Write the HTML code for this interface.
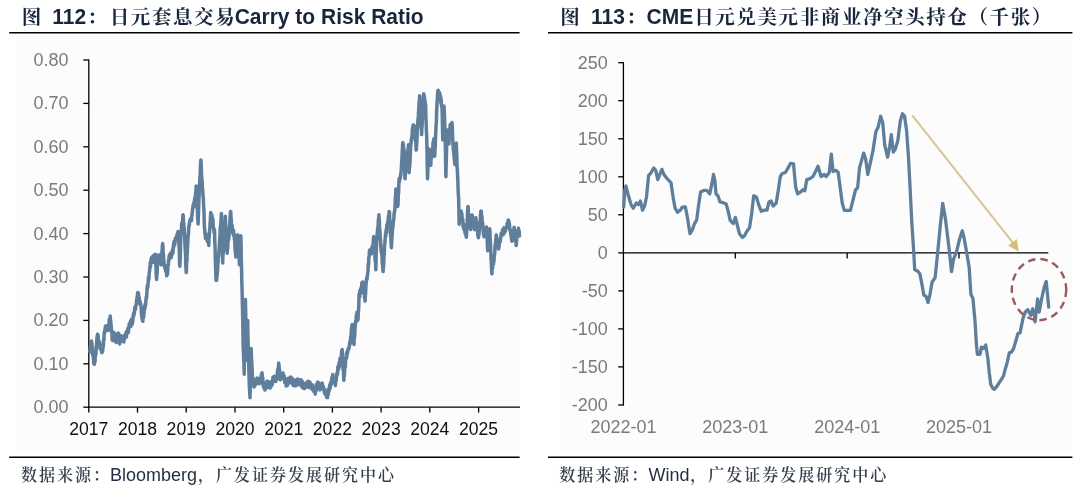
<!DOCTYPE html>
<html><head><meta charset="utf-8">
<style>
html,body{margin:0;padding:0;background:#fff;}
body{width:1080px;height:490px;overflow:hidden;}
svg{display:block;}
.t{font-family:"Liberation Sans","Noto Serif CJK SC",serif;font-size:21px;font-weight:bold;fill:#17263b;}
.tc{font-family:"Liberation Serif","Noto Serif CJK SC",serif;font-weight:bold;font-size:19.5px;letter-spacing:1.6px;}
.yl{font-family:"Liberation Sans",sans-serif;font-size:18px;fill:#7a7a7a;}
.xl{font-family:"Liberation Sans",sans-serif;font-size:17.6px;fill:#111;}
.xr{font-family:"Liberation Sans",sans-serif;font-size:18px;fill:#7a7a7a;}
.src{font-family:"Liberation Sans","Noto Serif CJK SC",serif;font-size:18px;fill:#1f2d40;}
.sc{font-family:"Liberation Serif","Noto Serif CJK SC",serif;font-size:16px;font-weight:600;letter-spacing:2px;fill:#343e4c;}
</style></head>
<body>
<svg width="1080" height="490" viewBox="0 0 1080 490">
<rect width="1080" height="490" fill="#fff"/>
<text class="t tc" x="21.8" y="24.2">图</text><text class="t tc" x="87.3" y="24.2">：</text><text class="t tc" x="109.7" y="24.2">日元套息交易</text>
<text class="t" y="24" transform="translate(0,-1.68) scale(1,1.07)"><tspan x="52.3">112</tspan><tspan x="234.7">Carry to Risk Ratio</tspan></text>
<line x1="9.2" y1="32.8" x2="519.6" y2="32.8" stroke="#000" stroke-width="1.6"/>
<text class="t tc" x="560.2" y="24.2">图</text><text class="t tc" x="626.2" y="24.2">：</text><text class="t tc" x="694.2" y="24.2">日元兑美元非商业净空头持仓（千张）</text>
<text class="t" y="24" transform="translate(0,-1.68) scale(1,1.07)"><tspan x="591">113</tspan><tspan x="646.5">CME</tspan></text>
<line x1="548" y1="32.8" x2="1072.4" y2="32.8" stroke="#000" stroke-width="1.6"/>
<rect x="16" y="34.5" width="504" height="415.5" fill="#fcfcfc"/>
<line x1="88.8" y1="59.5" x2="88.8" y2="407.2" stroke="#000" stroke-width="1.3"/>
<line x1="83.3" y1="60.0" x2="88.8" y2="60.0" stroke="#000" stroke-width="1.3"/>
<text x="68.5" y="66.1" transform="translate(0,-2.97) scale(1,1.045)" class="yl" text-anchor="end">0.80</text>
<line x1="83.3" y1="103.4" x2="88.8" y2="103.4" stroke="#000" stroke-width="1.3"/>
<text x="68.5" y="109.5" transform="translate(0,-4.93) scale(1,1.045)" class="yl" text-anchor="end">0.70</text>
<line x1="83.3" y1="146.8" x2="88.8" y2="146.8" stroke="#000" stroke-width="1.3"/>
<text x="68.5" y="152.9" transform="translate(0,-6.88) scale(1,1.045)" class="yl" text-anchor="end">0.60</text>
<line x1="83.3" y1="190.2" x2="88.8" y2="190.2" stroke="#000" stroke-width="1.3"/>
<text x="68.5" y="196.3" transform="translate(0,-8.83) scale(1,1.045)" class="yl" text-anchor="end">0.50</text>
<line x1="83.3" y1="233.6" x2="88.8" y2="233.6" stroke="#000" stroke-width="1.3"/>
<text x="68.5" y="239.7" transform="translate(0,-10.79) scale(1,1.045)" class="yl" text-anchor="end">0.40</text>
<line x1="83.3" y1="277.0" x2="88.8" y2="277.0" stroke="#000" stroke-width="1.3"/>
<text x="68.5" y="283.1" transform="translate(0,-12.74) scale(1,1.045)" class="yl" text-anchor="end">0.30</text>
<line x1="83.3" y1="320.4" x2="88.8" y2="320.4" stroke="#000" stroke-width="1.3"/>
<text x="68.5" y="326.5" transform="translate(0,-14.69) scale(1,1.045)" class="yl" text-anchor="end">0.20</text>
<line x1="83.3" y1="363.8" x2="88.8" y2="363.8" stroke="#000" stroke-width="1.3"/>
<text x="68.5" y="369.9" transform="translate(0,-16.65) scale(1,1.045)" class="yl" text-anchor="end">0.10</text>
<line x1="83.3" y1="407.2" x2="88.8" y2="407.2" stroke="#000" stroke-width="1.3"/>
<text x="68.5" y="413.3" transform="translate(0,-18.60) scale(1,1.045)" class="yl" text-anchor="end">0.00</text>
<line x1="88.2" y1="407.2" x2="520" y2="407.2" stroke="#000" stroke-width="1.3"/>
<line x1="88.8" y1="407.2" x2="88.8" y2="412.6" stroke="#000" stroke-width="1.3"/>
<text x="88.8" y="434.6" transform="translate(0,-30.42) scale(1,1.07)" class="xl" text-anchor="middle">2017</text>
<line x1="137.5" y1="407.2" x2="137.5" y2="412.6" stroke="#000" stroke-width="1.3"/>
<text x="137.5" y="434.6" transform="translate(0,-30.42) scale(1,1.07)" class="xl" text-anchor="middle">2018</text>
<line x1="186.2" y1="407.2" x2="186.2" y2="412.6" stroke="#000" stroke-width="1.3"/>
<text x="186.2" y="434.6" transform="translate(0,-30.42) scale(1,1.07)" class="xl" text-anchor="middle">2019</text>
<line x1="235.0" y1="407.2" x2="235.0" y2="412.6" stroke="#000" stroke-width="1.3"/>
<text x="235.0" y="434.6" transform="translate(0,-30.42) scale(1,1.07)" class="xl" text-anchor="middle">2020</text>
<line x1="283.7" y1="407.2" x2="283.7" y2="412.6" stroke="#000" stroke-width="1.3"/>
<text x="283.7" y="434.6" transform="translate(0,-30.42) scale(1,1.07)" class="xl" text-anchor="middle">2021</text>
<line x1="332.4" y1="407.2" x2="332.4" y2="412.6" stroke="#000" stroke-width="1.3"/>
<text x="332.4" y="434.6" transform="translate(0,-30.42) scale(1,1.07)" class="xl" text-anchor="middle">2022</text>
<line x1="381.1" y1="407.2" x2="381.1" y2="412.6" stroke="#000" stroke-width="1.3"/>
<text x="381.1" y="434.6" transform="translate(0,-30.42) scale(1,1.07)" class="xl" text-anchor="middle">2023</text>
<line x1="429.8" y1="407.2" x2="429.8" y2="412.6" stroke="#000" stroke-width="1.3"/>
<text x="429.8" y="434.6" transform="translate(0,-30.42) scale(1,1.07)" class="xl" text-anchor="middle">2024</text>
<line x1="478.6" y1="407.2" x2="478.6" y2="412.6" stroke="#000" stroke-width="1.3"/>
<text x="478.6" y="434.6" transform="translate(0,-30.42) scale(1,1.07)" class="xl" text-anchor="middle">2025</text>
<polyline points="89.9,351.7 90.2,348.8 90.4,345.8 90.7,347.3 90.9,341.7 91.2,343.0 91.4,341.0 91.6,342.5 91.9,342.9 92.1,348.3 92.3,347.7 92.6,352.7 92.8,355.6 93.0,354.2 93.3,355.8 93.5,359.5 93.8,363.6 94.0,360.4 94.3,364.3 94.5,360.7 94.8,361.6 95.0,362.0 95.2,357.7 95.5,354.8 95.7,353.7 95.9,354.4 96.2,345.9 96.4,348.8 96.7,342.6 96.9,339.2 97.1,336.6 97.4,335.5 97.6,334.3 97.8,337.8 98.1,335.0 98.3,339.0 98.5,340.8 98.7,340.4 99.0,342.9 99.2,344.0 99.5,342.1 99.7,343.0 100.0,344.9 100.2,349.0 100.5,348.8 100.7,348.6 100.9,348.2 101.2,350.3 101.4,349.8 101.6,349.1 101.8,352.7 102.1,352.4 102.3,349.7 102.5,351.7 102.7,349.8 103.0,347.0 103.2,346.9 103.5,343.5 103.7,338.2 103.9,340.3 104.2,332.2 104.4,332.3 104.6,331.1 104.8,332.7 105.1,328.1 105.3,329.6 105.5,326.0 105.7,329.5 106.0,329.5 106.2,327.6 106.4,326.5 106.6,329.2 106.9,325.8 107.1,328.5 107.3,328.1 107.6,328.3 107.8,327.7 108.1,330.5 108.3,328.5 108.5,329.9 108.8,325.2 109.0,324.9 109.2,319.3 109.5,322.0 109.7,320.0 110.0,320.7 110.2,315.9 110.4,320.7 110.6,319.9 110.9,323.2 111.1,327.8 111.3,326.2 111.5,331.8 111.8,332.5 112.0,334.9 112.2,340.1 112.4,336.5 112.7,340.4 112.9,335.5 113.2,335.5 113.4,335.8 113.6,338.2 113.9,332.3 114.1,334.3 114.3,334.9 114.6,336.6 114.8,339.7 115.0,340.3 115.3,341.5 115.5,338.6 115.8,340.5 116.0,342.0 116.2,340.1 116.4,342.6 116.7,342.1 116.9,335.8 117.1,335.0 117.3,334.4 117.6,333.5 117.8,334.2 118.0,333.3 118.2,335.0 118.5,333.9 118.7,333.3 119.0,337.1 119.2,337.9 119.4,340.3 119.7,343.9 119.9,342.0 120.1,342.6 120.3,340.8 120.6,340.8 120.8,340.6 121.0,335.8 121.2,340.8 121.5,339.3 121.7,339.3 121.9,336.2 122.1,338.9 122.4,336.9 122.6,337.7 122.8,336.5 123.1,340.7 123.3,337.7 123.6,338.4 123.8,342.0 124.0,339.4 124.3,338.3 124.5,338.8 124.8,336.1 125.0,335.1 125.2,335.3 125.5,334.3 125.7,336.2 125.9,334.8 126.1,332.0 126.4,337.1 126.6,334.8 126.8,331.2 127.0,331.4 127.3,331.5 127.5,331.0 127.7,331.4 127.9,328.2 128.2,332.3 128.4,332.5 128.7,328.3 128.9,327.7 129.1,324.3 129.4,323.7 129.6,325.6 129.8,324.2 130.0,323.3 130.3,326.6 130.5,321.9 130.7,320.6 130.9,326.3 131.2,323.1 131.4,320.3 131.6,322.5 131.8,318.7 132.1,321.6 132.3,324.2 132.5,320.7 132.7,322.0 132.9,319.8 133.2,315.9 133.4,315.5 133.6,313.1 133.8,316.0 134.1,313.4 134.3,313.9 134.5,311.0 134.7,308.7 135.0,306.7 135.2,309.4 135.4,309.4 135.7,307.3 135.9,305.7 136.2,304.6 136.4,301.3 136.6,301.9 136.9,297.6 137.1,298.5 137.4,296.5 137.6,293.4 137.8,292.4 138.1,293.1 138.3,293.6 138.5,293.1 138.7,297.0 139.0,299.8 139.2,297.6 139.4,301.9 139.6,303.3 139.9,304.1 140.1,301.3 140.3,303.3 140.5,303.2 140.8,305.0 141.0,306.5 141.2,308.3 141.4,312.8 141.7,316.4 141.9,317.7 142.1,317.1 142.4,320.0 142.6,320.7 142.8,321.3 143.1,315.2 143.3,317.6 143.5,317.9 143.7,315.6 144.0,314.0 144.2,311.0 144.4,309.4 144.7,306.0 144.9,308.6 145.1,304.1 145.4,305.7 145.6,305.4 145.9,300.2 146.1,299.4 146.3,296.7 146.6,298.2 146.8,294.7 147.1,289.0 147.3,286.7 147.5,284.8 147.8,287.7 148.0,283.0 148.2,283.3 148.4,277.2 148.7,280.0 148.9,279.3 149.1,275.4 149.3,271.7 149.6,271.3 149.8,266.8 150.0,267.5 150.3,262.4 150.5,266.9 150.8,262.9 151.0,260.2 151.3,258.2 151.6,260.8 151.8,257.2 152.1,259.9 152.3,259.3 152.6,256.9 152.9,256.1 153.1,257.4 153.4,258.7 153.6,259.4 153.9,262.2 154.1,261.4 154.4,257.9 154.6,257.7 154.8,254.4 155.1,258.2 155.3,254.2 155.6,258.3 155.8,264.0 156.1,269.9 156.3,277.0 156.6,279.4 156.9,274.6 157.1,273.7 157.4,266.7 157.6,262.7 157.9,258.2 158.1,258.4 158.3,255.0 158.6,257.8 158.8,256.1 159.0,254.9 159.2,260.2 159.5,256.0 159.7,258.0 159.9,258.2 160.2,261.0 160.4,261.2 160.7,261.0 160.9,263.6 161.2,264.8 161.4,261.6 161.7,259.6 161.9,251.6 162.1,251.1 162.4,245.5 162.6,243.6 162.9,245.6 163.1,252.3 163.4,254.0 163.6,257.8 163.9,260.9 164.2,264.2 164.4,266.8 164.7,265.3 164.9,268.0 165.2,268.8 165.4,269.4 165.6,270.1 165.9,271.8 166.1,270.8 166.3,272.0 166.5,272.2 166.8,275.8 167.0,274.8 167.2,274.1 167.4,274.2 167.7,272.2 167.9,265.2 168.1,264.8 168.4,264.9 168.6,259.5 168.9,261.2 169.1,256.1 169.4,255.4 169.6,257.0 169.9,256.9 170.1,253.8 170.3,254.6 170.6,253.2 170.8,256.8 171.0,257.3 171.2,257.7 171.5,252.5 171.7,255.9 171.9,254.2 172.2,254.2 172.4,249.7 172.7,253.5 172.9,253.0 173.2,248.9 173.4,244.8 173.7,247.5 173.9,242.3 174.2,241.3 174.4,241.7 174.7,244.7 174.9,243.4 175.2,240.9 175.4,238.2 175.6,239.6 175.9,239.7 176.1,238.1 176.3,236.7 176.5,237.1 176.8,239.3 177.0,234.3 177.2,237.0 177.5,236.6 177.7,235.0 178.0,231.4 178.2,232.7 178.5,233.0 178.8,240.5 179.0,246.4 179.3,250.0 179.5,262.8 179.8,266.2 180.0,262.1 180.3,257.2 180.5,245.5 180.7,240.5 181.0,233.0 181.2,230.0 181.4,230.2 181.6,225.2 181.9,222.7 182.1,223.0 182.3,224.6 182.5,222.4 182.8,217.1 183.0,214.7 183.2,215.4 183.5,221.8 183.7,223.2 184.0,227.8 184.2,227.4 184.5,233.8 184.7,236.4 185.0,246.1 185.2,249.9 185.5,253.1 185.7,264.3 186.0,267.9 186.2,272.5 186.4,270.2 186.6,261.2 186.9,262.0 187.1,252.4 187.3,253.4 187.5,246.4 187.8,241.3 188.0,238.5 188.2,233.8 188.4,234.7 188.7,228.3 188.9,225.5 189.2,226.1 189.4,224.0 189.6,221.8 189.9,220.5 190.1,220.3 190.4,219.1 190.6,219.7 190.8,219.9 191.1,219.4 191.3,220.2 191.5,220.4 191.7,215.8 192.0,215.7 192.2,212.0 192.4,211.6 192.6,208.0 192.9,208.0 193.1,204.9 193.3,206.6 193.5,207.2 193.8,205.0 194.0,201.7 194.2,202.6 194.5,204.7 194.7,198.2 195.0,202.0 195.2,198.9 195.4,195.2 195.7,192.4 195.9,191.4 196.2,186.0 196.4,190.0 196.7,195.5 196.9,201.5 197.1,208.2 197.4,208.7 197.6,216.7 197.9,220.6 198.1,224.0 198.3,218.3 198.6,210.2 198.8,203.2 199.1,194.7 199.3,188.6 199.6,184.5 199.9,176.8 200.1,176.3 200.4,168.2 200.6,162.7 200.9,160.0 201.1,161.8 201.4,171.3 201.6,175.9 201.8,179.1 202.1,181.1 202.3,187.0 202.5,188.5 202.8,192.0 203.0,196.3 203.3,197.5 203.5,203.0 203.7,207.8 204.0,211.7 204.2,221.4 204.4,226.7 204.7,229.0 204.9,233.8 205.1,232.8 205.4,238.3 205.6,234.7 205.9,235.8 206.1,234.1 206.3,237.4 206.6,238.7 206.8,239.6 207.0,240.3 207.2,238.9 207.5,241.6 207.7,238.9 207.9,241.3 208.1,240.8 208.4,243.4 208.6,241.7 208.8,245.4 209.0,238.1 209.3,235.9 209.5,231.3 209.8,229.5 210.0,225.0 210.2,222.3 210.5,217.6 210.7,212.4 210.9,214.7 211.1,216.6 211.4,214.3 211.6,214.7 211.8,219.9 212.0,215.3 212.3,219.9 212.5,220.3 212.7,220.2 212.9,218.9 213.2,225.8 213.4,227.9 213.6,227.8 213.9,230.2 214.1,232.5 214.4,229.7 214.6,233.8 214.8,241.7 215.1,249.3 215.3,259.3 215.6,266.8 215.8,274.7 216.1,280.3 216.3,279.6 216.6,280.3 216.8,277.6 217.0,276.4 217.3,272.0 217.5,272.5 217.7,265.8 218.0,262.8 218.2,260.7 218.4,255.4 218.7,256.6 218.9,251.1 219.2,248.0 219.4,243.5 219.6,241.0 219.8,238.0 220.1,233.4 220.3,226.8 220.5,228.7 220.7,225.1 221.0,220.1 221.2,217.0 221.4,213.4 221.7,224.4 221.9,230.3 222.2,244.7 222.4,251.4 222.7,262.9 222.9,255.9 223.2,252.9 223.4,251.7 223.6,244.0 223.9,243.3 224.1,240.6 224.4,233.2 224.6,228.2 224.8,224.6 225.1,221.7 225.3,216.3 225.5,222.7 225.8,226.3 226.0,231.1 226.2,232.0 226.5,237.0 226.7,242.4 227.0,250.2 227.2,253.2 227.4,249.5 227.7,248.8 227.9,242.7 228.1,240.6 228.4,239.5 228.6,239.8 228.9,237.5 229.1,233.8 229.3,231.2 229.6,225.0 229.8,222.8 230.0,218.7 230.3,215.0 230.5,211.5 230.8,211.7 231.0,219.6 231.2,217.8 231.5,225.7 231.8,228.1 232.0,228.0 232.2,225.5 232.4,229.0 232.7,232.0 232.9,233.7 233.1,230.9 233.3,230.3 233.6,230.6 233.8,236.1 234.0,233.8 234.2,234.8 234.5,240.1 234.7,240.1 234.9,245.6 235.2,251.3 235.4,248.8 235.7,256.2 235.9,257.0 236.1,254.7 236.3,254.8 236.6,251.2 236.8,245.8 237.0,247.8 237.2,242.7 237.5,237.3 237.7,234.8 237.9,235.7 238.2,240.5 238.4,245.1 238.7,248.9 238.9,252.7 239.2,258.9 239.4,264.8 239.6,258.7 239.9,257.3 240.1,247.0 240.3,247.1 240.6,242.8 240.8,235.7 241.1,244.1 241.3,260.2 241.6,269.7 241.8,281.8 242.1,290.0 242.3,300.3 242.6,312.6 242.8,324.4 243.0,336.8 243.2,347.6 243.5,352.4 243.7,358.4 244.0,366.3 244.2,374.3 244.4,357.8 244.7,341.4 244.9,326.7 245.2,316.6 245.4,299.4 245.7,313.2 245.9,332.7 246.2,343.4 246.5,360.3 246.7,350.8 247.0,344.4 247.2,334.3 247.5,327.5 247.7,320.4 247.9,333.7 248.2,343.6 248.4,353.4 248.7,362.5 248.9,372.0 249.2,381.2 249.4,387.8 249.7,391.6 250.0,397.7 250.2,389.3 250.5,375.0 250.7,369.7 251.0,358.0 251.2,348.5 251.4,356.3 251.7,361.7 251.9,365.4 252.2,369.9 252.4,379.0 252.6,382.5 252.9,377.9 253.1,380.9 253.3,380.8 253.6,381.2 253.8,384.8 254.0,387.0 254.2,383.0 254.5,386.3 254.7,386.0 254.9,384.0 255.2,385.0 255.4,383.2 255.7,381.0 255.9,380.3 256.1,379.9 256.4,383.8 256.6,380.4 256.9,377.9 257.1,379.0 257.3,382.2 257.6,383.2 257.8,380.1 258.0,378.5 258.2,379.3 258.5,379.1 258.7,381.2 258.9,380.1 259.2,381.5 259.4,383.7 259.6,381.2 259.9,382.3 260.1,383.4 260.4,381.6 260.6,378.4 260.8,377.5 261.1,377.3 261.3,375.4 261.6,374.2 261.8,374.3 262.0,372.8 262.3,375.7 262.5,381.6 262.7,377.5 263.0,381.4 263.2,383.6 263.4,386.6 263.6,383.7 263.9,385.5 264.1,388.4 264.3,386.4 264.6,387.1 264.8,387.1 265.0,390.1 265.3,389.1 265.5,389.0 265.7,383.1 266.0,382.8 266.2,387.0 266.4,387.9 266.7,384.8 266.9,385.2 267.1,381.0 267.4,383.3 267.6,383.7 267.8,386.7 268.1,386.2 268.3,386.5 268.5,387.4 268.8,382.8 269.0,382.0 269.2,382.5 269.5,385.1 269.7,386.3 269.9,388.1 270.2,386.9 270.4,386.5 270.6,387.4 270.9,385.6 271.1,386.0 271.3,385.5 271.6,381.3 271.8,385.4 272.1,381.0 272.3,384.7 272.5,382.0 272.8,379.0 273.0,377.0 273.3,377.0 273.5,377.8 273.7,379.0 274.0,379.8 274.2,376.3 274.4,376.4 274.6,379.7 274.9,380.4 275.1,379.5 275.3,378.8 275.6,381.6 275.8,381.3 276.0,376.9 276.2,377.6 276.5,377.5 276.7,379.6 276.9,376.4 277.1,376.8 277.4,372.9 277.6,370.2 277.8,369.1 278.0,372.6 278.2,369.8 278.5,366.0 278.7,362.9 278.9,364.9 279.1,366.9 279.4,370.1 279.6,370.4 279.8,371.4 280.0,376.1 280.3,379.8 280.5,379.0 280.7,376.7 281.0,375.0 281.2,376.5 281.4,376.6 281.6,377.9 281.9,374.2 282.1,377.7 282.3,376.8 282.6,374.8 282.8,374.3 283.0,372.9 283.2,378.6 283.5,374.8 283.7,378.8 283.9,375.5 284.1,376.0 284.4,380.1 284.6,377.6 284.8,382.6 285.1,380.1 285.3,378.7 285.5,379.5 285.7,381.4 285.9,383.6 286.2,386.1 286.4,383.7 286.6,381.1 286.9,382.4 287.1,380.9 287.3,385.6 287.6,379.8 287.8,378.9 288.0,378.6 288.3,380.5 288.5,383.5 288.7,383.1 289.0,381.8 289.2,383.2 289.4,382.5 289.7,378.2 289.9,379.0 290.1,377.2 290.4,382.3 290.6,381.3 290.8,376.9 291.0,381.3 291.3,379.6 291.5,379.8 291.7,379.8 292.0,378.9 292.2,378.1 292.4,380.1 292.7,380.8 292.9,385.1 293.1,379.8 293.4,385.6 293.6,380.8 293.8,382.0 294.0,385.4 294.3,385.6 294.5,383.7 294.7,383.1 294.9,380.5 295.2,383.2 295.4,382.4 295.6,385.9 295.8,381.0 296.1,382.0 296.3,385.4 296.5,379.6 296.7,382.0 297.0,384.5 297.2,384.1 297.4,379.2 297.6,379.0 297.9,379.1 298.1,384.6 298.3,380.2 298.5,383.3 298.8,384.2 299.0,380.4 299.2,381.3 299.4,380.0 299.7,384.8 299.9,382.7 300.1,380.6 300.3,383.8 300.6,381.4 300.8,381.4 301.0,379.8 301.3,385.0 301.5,386.3 301.7,384.6 301.9,386.9 302.2,381.1 302.4,382.7 302.6,384.5 302.9,387.9 303.1,388.1 303.3,384.6 303.5,383.9 303.8,385.3 304.0,386.0 304.2,385.9 304.5,388.6 304.7,383.6 304.9,387.6 305.1,387.1 305.4,387.6 305.6,387.2 305.8,386.0 306.0,384.0 306.3,383.9 306.5,384.1 306.7,386.8 307.0,382.0 307.2,382.7 307.4,386.3 307.6,382.9 307.9,381.6 308.1,381.3 308.3,384.6 308.5,383.0 308.8,387.3 309.0,384.0 309.2,386.8 309.4,387.7 309.7,383.1 309.9,382.1 310.1,382.4 310.3,385.3 310.6,386.9 310.8,385.4 311.0,384.2 311.2,385.7 311.4,387.2 311.7,387.8 311.9,388.5 312.1,389.4 312.3,388.4 312.6,385.1 312.8,390.0 313.0,388.0 313.2,387.1 313.4,389.4 313.7,388.7 313.9,391.6 314.1,388.5 314.3,389.3 314.6,389.8 314.8,389.7 315.0,392.5 315.2,394.1 315.4,391.1 315.7,388.5 315.9,388.0 316.1,391.0 316.3,386.9 316.6,384.1 316.8,387.0 317.0,384.0 317.2,385.2 317.5,387.7 317.7,382.1 317.9,384.8 318.2,387.3 318.4,387.6 318.6,388.4 318.8,382.8 319.1,384.7 319.3,383.8 319.5,384.5 319.8,389.9 320.0,387.0 320.2,387.3 320.4,389.4 320.7,385.5 320.9,388.5 321.1,385.6 321.3,384.1 321.6,387.3 321.8,388.2 322.0,385.0 322.2,383.1 322.5,387.0 322.7,387.9 323.0,385.9 323.2,387.6 323.4,386.8 323.7,387.9 323.9,389.0 324.2,392.0 324.4,392.0 324.6,393.3 324.9,390.7 325.1,389.8 325.3,392.2 325.6,394.8 325.8,391.9 326.0,393.1 326.3,392.7 326.5,395.0 326.8,397.6 327.0,396.6 327.2,394.1 327.5,397.6 327.7,393.8 327.9,394.6 328.2,394.5 328.4,394.0 328.6,389.2 328.8,388.6 329.1,391.0 329.3,387.9 329.5,387.4 329.7,385.2 329.9,384.7 330.2,388.2 330.4,383.2 330.6,384.2 330.8,382.1 331.1,381.7 331.3,384.0 331.5,384.1 331.7,379.2 331.9,377.4 332.2,380.2 332.4,376.0 332.6,377.2 332.8,374.4 333.1,380.8 333.3,378.1 333.5,381.2 333.8,378.9 334.0,382.5 334.2,380.2 334.4,378.7 334.7,378.2 334.9,382.2 335.1,383.3 335.4,385.5 335.6,383.3 335.8,379.1 336.1,381.2 336.3,378.0 336.5,377.4 336.8,373.6 337.0,373.0 337.2,373.1 337.5,374.3 337.7,370.0 337.9,366.6 338.2,368.2 338.4,369.4 338.6,369.6 338.9,363.7 339.1,362.4 339.3,366.9 339.5,366.2 339.8,362.1 340.0,358.4 340.2,363.3 340.5,358.9 340.7,358.8 340.9,359.9 341.2,356.5 341.4,356.3 341.7,350.4 341.9,353.0 342.2,349.6 342.4,352.2 342.7,357.7 342.9,365.0 343.1,369.3 343.3,369.4 343.6,374.1 343.8,380.3 344.0,377.2 344.3,375.6 344.5,372.4 344.7,368.3 345.0,366.7 345.2,367.5 345.4,366.2 345.7,358.2 345.9,358.8 346.1,358.3 346.3,358.7 346.6,353.1 346.8,357.4 347.0,351.8 347.2,354.1 347.5,352.8 347.7,352.4 347.9,350.7 348.1,348.7 348.4,348.8 348.6,349.2 348.8,347.5 349.1,348.3 349.3,346.2 349.5,345.5 349.8,342.0 350.0,344.5 350.2,343.1 350.4,340.1 350.7,336.3 350.9,337.6 351.1,335.5 351.3,331.2 351.6,327.2 351.8,327.0 352.0,325.0 352.2,324.6 352.4,326.9 352.7,331.0 352.9,331.0 353.1,335.5 353.3,338.1 353.6,337.1 353.8,343.2 354.0,344.5 354.2,337.7 354.5,337.9 354.8,334.1 355.0,328.2 355.2,326.5 355.4,321.7 355.7,322.8 355.9,320.2 356.1,322.2 356.3,315.0 356.6,318.0 356.8,317.1 357.0,312.0 357.2,314.7 357.4,316.5 357.7,313.6 357.9,320.0 358.1,318.0 358.3,312.5 358.6,310.2 358.8,304.5 359.0,296.3 359.2,293.4 359.5,296.8 359.7,297.0 359.9,290.6 360.2,291.8 360.4,293.8 360.6,289.1 360.9,293.3 361.1,290.0 361.3,286.9 361.6,288.8 361.8,282.8 362.0,283.5 362.2,283.6 362.5,286.5 362.7,281.9 363.0,282.3 363.2,284.0 363.4,285.9 363.6,286.4 363.9,286.4 364.1,289.1 364.3,290.8 364.5,297.7 364.8,297.9 365.0,301.1 365.2,300.3 365.4,294.1 365.6,294.1 365.9,285.6 366.1,284.3 366.3,280.0 366.5,279.9 366.8,277.2 367.0,279.6 367.3,276.5 367.5,275.2 367.7,272.8 368.0,271.8 368.2,263.7 368.4,266.6 368.7,261.2 368.9,256.7 369.2,256.3 369.4,251.4 369.6,250.1 369.8,255.1 370.1,252.6 370.3,251.4 370.5,254.3 370.8,252.4 371.0,250.8 371.2,253.2 371.4,253.6 371.7,247.8 371.9,251.6 372.1,246.7 372.4,248.0 372.6,249.0 372.8,245.2 373.1,244.5 373.3,240.9 373.5,237.7 373.8,236.6 374.0,238.5 374.2,240.1 374.4,247.1 374.7,249.8 374.9,254.2 375.1,260.6 375.4,259.5 375.6,264.0 375.8,269.7 376.0,263.8 376.2,252.8 376.5,245.8 376.7,242.2 376.9,238.2 377.2,233.5 377.4,232.1 377.7,228.2 377.9,227.5 378.2,224.5 378.4,218.9 378.7,218.6 378.9,214.7 379.1,218.8 379.4,220.9 379.6,230.4 379.9,230.1 380.1,233.8 380.4,240.4 380.6,240.3 380.8,246.5 381.1,250.7 381.3,252.7 381.5,252.8 381.8,254.4 382.0,255.4 382.2,262.2 382.4,264.2 382.7,265.4 382.9,270.0 383.1,271.6 383.3,267.3 383.6,266.7 383.8,261.4 384.1,254.3 384.3,254.8 384.5,245.2 384.8,244.5 385.0,240.4 385.2,238.2 385.4,235.6 385.7,232.9 385.9,236.1 386.1,229.5 386.4,231.5 386.6,232.6 386.8,225.8 387.0,224.6 387.2,225.8 387.5,223.6 387.7,222.0 387.9,221.7 388.1,221.6 388.4,216.1 388.6,215.7 388.8,214.4 389.1,211.5 389.3,215.8 389.5,212.0 389.7,218.3 390.0,222.3 390.2,222.1 390.4,232.1 390.7,235.9 390.9,238.5 391.2,244.8 391.4,247.7 391.6,244.2 391.8,239.5 392.1,235.5 392.3,233.1 392.5,228.6 392.8,227.3 393.0,226.9 393.2,222.0 393.4,221.5 393.6,220.6 393.9,217.9 394.1,213.1 394.3,213.2 394.6,210.6 394.8,211.0 395.0,207.3 395.2,202.9 395.4,196.6 395.7,194.5 395.9,189.0 396.1,193.9 396.3,190.8 396.6,196.9 396.8,193.0 397.0,196.5 397.2,198.1 397.5,203.3 397.7,206.4 397.9,205.3 398.1,202.0 398.3,194.4 398.6,193.1 398.8,184.6 399.0,180.8 399.2,178.2 399.4,181.7 399.7,179.0 399.9,178.5 400.1,177.4 400.3,178.6 400.6,174.3 400.8,175.8 401.0,172.7 401.2,170.2 401.4,167.5 401.7,161.0 401.9,159.1 402.1,154.3 402.4,148.8 402.6,144.4 402.8,142.5 403.1,145.4 403.3,143.9 403.6,151.5 403.8,148.5 404.1,149.8 404.3,155.0 404.5,160.3 404.8,173.7 405.0,178.8 405.2,175.7 405.5,172.3 405.7,169.6 405.9,167.6 406.2,169.8 406.4,167.4 406.6,165.8 406.9,164.0 407.1,160.4 407.4,154.4 407.6,154.8 407.9,150.1 408.1,150.0 408.4,144.8 408.6,156.2 408.9,166.0 409.1,172.7 409.4,165.9 409.6,167.2 409.9,163.6 410.1,159.9 410.4,153.0 410.6,147.7 410.8,145.6 411.1,142.3 411.3,139.0 411.5,141.7 411.7,138.7 412.0,134.8 412.2,133.4 412.4,128.5 412.6,129.1 412.9,126.6 413.1,125.2 413.3,124.9 413.6,129.0 413.8,125.2 414.0,125.7 414.3,126.1 414.5,126.4 414.7,126.2 414.9,130.7 415.2,133.8 415.4,139.6 415.6,140.3 415.9,142.9 416.1,150.1 416.3,150.0 416.6,145.3 416.8,142.9 417.1,136.6 417.3,128.0 417.6,126.4 417.8,122.4 418.0,119.2 418.3,118.0 418.5,111.8 418.7,110.8 418.9,106.3 419.2,100.7 419.4,101.6 419.6,95.8 419.8,97.4 420.0,106.5 420.3,106.6 420.5,109.8 420.7,115.4 420.9,123.4 421.2,129.1 421.4,127.0 421.6,134.6 421.8,130.0 422.1,125.5 422.3,123.0 422.5,114.4 422.8,111.9 423.0,106.4 423.2,105.1 423.5,96.8 423.7,93.8 423.9,98.3 424.1,95.5 424.4,96.7 424.6,101.4 424.8,101.7 425.0,100.7 425.3,105.7 425.5,103.7 425.7,108.0 425.9,117.1 426.2,123.6 426.4,131.3 426.7,136.6 427.0,151.5 427.2,163.8 427.5,178.8 427.8,172.2 428.0,166.1 428.3,163.4 428.5,152.1 428.8,148.9 429.0,153.4 429.2,149.7 429.5,152.8 429.7,155.1 429.9,161.3 430.2,160.6 430.4,161.8 430.6,164.5 430.8,165.2 431.0,159.1 431.3,158.8 431.5,157.5 431.7,157.1 431.9,155.3 432.2,152.8 432.4,149.0 432.6,148.2 432.9,145.2 433.1,142.1 433.4,144.8 433.6,141.7 433.9,138.7 434.2,146.2 434.4,148.3 434.7,156.3 434.9,150.7 435.2,147.8 435.4,141.3 435.7,133.2 435.9,130.5 436.1,124.7 436.4,122.0 436.6,112.1 436.9,106.3 437.1,101.5 437.4,98.6 437.6,91.7 437.8,94.4 438.1,90.2 438.3,90.7 438.6,91.7 438.8,92.6 439.0,94.3 439.3,92.3 439.5,93.8 439.8,93.3 440.0,95.8 440.2,100.1 440.4,99.6 440.7,96.6 440.9,103.4 441.1,98.8 441.3,101.8 441.6,106.9 441.8,106.8 442.0,106.0 442.3,118.9 442.5,128.2 442.8,140.0 443.0,131.2 443.3,127.3 443.5,117.0 443.8,110.9 444.0,106.0 444.2,110.6 444.4,113.6 444.7,121.3 444.9,129.2 445.1,132.6 445.4,148.6 445.6,162.0 445.9,176.7 446.1,168.2 446.4,157.8 446.6,146.3 446.9,140.0 447.1,130.0 447.3,131.1 447.6,135.1 447.8,137.9 448.1,136.5 448.3,139.2 448.5,142.1 448.8,141.7 449.0,144.0 449.2,138.3 449.5,137.6 449.7,134.7 450.0,130.1 450.2,124.4 450.4,125.8 450.6,126.9 450.9,125.9 451.1,125.8 451.3,124.7 451.5,123.8 451.8,126.0 452.0,122.6 452.2,125.4 452.4,129.8 452.6,137.1 452.9,141.6 453.1,145.9 453.3,150.0 453.5,150.4 453.8,153.6 454.0,155.9 454.3,159.1 454.5,159.8 454.8,163.6 455.0,164.5 455.3,163.0 455.5,153.8 455.8,152.6 456.0,149.1 456.3,143.0 456.5,148.7 456.8,155.7 457.0,165.3 457.2,168.6 457.4,170.4 457.7,178.6 457.9,180.9 458.1,189.9 458.4,195.8 458.6,197.7 458.9,211.1 459.1,224.3 459.3,220.2 459.6,221.8 459.8,220.1 460.0,219.8 460.3,217.0 460.5,216.4 460.7,216.1 461.0,212.6 461.2,211.0 461.4,212.0 461.6,217.1 461.9,213.7 462.1,218.4 462.3,218.0 462.5,222.0 462.8,219.4 463.0,226.6 463.2,224.0 463.4,223.6 463.7,226.6 463.9,229.6 464.1,229.4 464.4,227.4 464.6,230.5 464.8,231.0 465.1,233.3 465.3,231.5 465.6,231.4 465.8,231.6 466.0,235.5 466.3,237.3 466.5,234.9 466.7,230.4 467.0,223.7 467.2,222.9 467.4,215.6 467.7,209.7 467.9,207.0 468.1,206.6 468.4,212.9 468.6,215.2 468.8,216.1 469.1,217.1 469.3,219.7 469.6,219.6 469.8,226.5 470.0,224.5 470.3,228.5 470.5,229.6 470.8,228.8 471.0,225.8 471.3,220.6 471.5,216.6 471.8,215.0 472.0,216.5 472.2,215.0 472.5,220.9 472.7,218.9 472.9,223.4 473.1,220.8 473.4,222.7 473.6,223.1 473.8,225.5 474.1,225.1 474.3,225.1 474.5,229.6 474.8,228.7 475.0,223.4 475.3,220.7 475.5,218.7 475.8,217.6 476.0,219.1 476.2,220.4 476.5,223.5 476.7,225.3 476.9,225.0 477.1,230.4 477.4,231.5 477.6,227.9 477.8,234.7 478.1,236.9 478.3,237.7 478.5,237.5 478.7,232.7 479.0,234.9 479.2,231.2 479.4,224.7 479.7,222.2 479.9,226.0 480.2,221.7 480.4,216.6 480.6,213.2 480.9,211.1 481.1,211.0 481.3,211.2 481.6,216.8 481.8,216.0 482.0,216.7 482.2,223.6 482.5,224.9 482.7,222.7 482.9,229.5 483.1,229.6 483.4,232.8 483.6,234.0 483.8,234.9 484.0,236.8 484.3,235.4 484.5,235.0 484.7,230.0 485.0,232.6 485.2,230.8 485.5,231.5 485.7,228.7 485.9,231.0 486.2,228.1 486.4,227.0 486.7,230.2 486.9,234.8 487.2,238.9 487.4,246.0 487.7,250.8 487.9,245.5 488.2,245.9 488.4,241.4 488.7,241.3 488.9,239.0 489.2,236.9 489.4,236.7 489.7,228.7 489.9,229.6 490.1,237.1 490.3,240.0 490.6,245.9 490.8,251.9 491.0,258.3 491.2,260.6 491.5,266.2 491.7,272.0 491.9,273.7 492.1,266.5 492.4,268.9 492.6,267.6 492.8,262.2 493.0,264.7 493.3,263.9 493.5,264.2 493.7,258.9 493.9,261.8 494.2,257.4 494.4,256.0 494.6,253.3 494.8,253.3 495.1,245.0 495.3,246.9 495.5,243.6 495.8,239.1 496.0,239.9 496.2,234.9 496.4,235.5 496.7,237.7 496.9,239.5 497.2,242.6 497.4,240.3 497.7,243.3 497.9,244.7 498.2,247.0 498.4,248.1 498.6,249.1 498.9,244.3 499.1,246.7 499.3,242.7 499.6,242.1 499.8,239.4 500.1,239.7 500.3,241.6 500.5,238.3 500.8,238.0 501.0,234.9 501.2,233.5 501.4,233.1 501.7,232.7 501.9,234.3 502.1,234.3 502.3,235.0 502.6,229.8 502.8,234.0 503.0,234.8 503.2,232.3 503.4,228.7 503.7,230.0 503.9,227.8 504.1,228.7 504.3,233.3 504.6,230.9 504.8,230.9 505.0,229.6 505.2,231.1 505.4,231.4 505.7,229.0 505.9,228.6 506.1,228.2 506.3,228.2 506.6,227.1 506.8,227.2 507.0,223.7 507.2,226.3 507.4,224.4 507.7,226.0 507.9,221.2 508.1,221.3 508.3,219.9 508.6,224.3 508.8,224.8 509.0,221.6 509.2,224.3 509.5,224.1 509.7,228.8 509.9,230.3 510.2,230.5 510.4,230.1 510.7,232.1 510.9,234.6 511.1,235.6 511.4,238.1 511.6,240.2 511.8,240.3 512.0,241.3 512.3,234.6 512.5,237.1 512.7,232.7 513.0,232.4 513.2,236.1 513.4,233.6 513.6,235.0 513.8,231.0 514.1,227.3 514.3,229.6 514.5,230.8 514.8,234.2 515.0,238.5 515.2,240.7 515.4,239.4 515.6,240.9 515.9,240.9 516.1,245.5 516.3,244.7 516.6,240.1 516.8,237.9 517.0,235.2 517.3,233.4 517.5,236.1 517.7,230.6 518.0,234.4 518.2,229.6 518.5,228.2 518.7,234.6 519.0,231.0 519.2,231.5 519.5,236.0" fill="none" stroke="#5e7e9c" stroke-width="3.5" stroke-linejoin="round" stroke-linecap="round"/>
<rect x="560" y="39.5" width="512" height="410.5" fill="#fcfcfc"/>
<line x1="623.4" y1="62.1" x2="623.4" y2="405.6" stroke="#000" stroke-width="1.3"/>
<line x1="618.2" y1="62.7" x2="623.4" y2="62.7" stroke="#000" stroke-width="1.3"/>
<text x="607.8" y="68.8" transform="translate(0,-3.10) scale(1,1.045)" class="yl" text-anchor="end">250</text>
<line x1="618.2" y1="100.7" x2="623.4" y2="100.7" stroke="#000" stroke-width="1.3"/>
<text x="607.8" y="106.8" transform="translate(0,-4.81) scale(1,1.045)" class="yl" text-anchor="end">200</text>
<line x1="618.2" y1="138.8" x2="623.4" y2="138.8" stroke="#000" stroke-width="1.3"/>
<text x="607.8" y="144.9" transform="translate(0,-6.52) scale(1,1.045)" class="yl" text-anchor="end">150</text>
<line x1="618.2" y1="176.8" x2="623.4" y2="176.8" stroke="#000" stroke-width="1.3"/>
<text x="607.8" y="182.9" transform="translate(0,-8.23) scale(1,1.045)" class="yl" text-anchor="end">100</text>
<line x1="618.2" y1="214.8" x2="623.4" y2="214.8" stroke="#000" stroke-width="1.3"/>
<text x="607.8" y="220.9" transform="translate(0,-9.94) scale(1,1.045)" class="yl" text-anchor="end">50</text>
<line x1="618.2" y1="252.9" x2="623.4" y2="252.9" stroke="#000" stroke-width="1.3"/>
<text x="607.8" y="259.0" transform="translate(0,-11.65) scale(1,1.045)" class="yl" text-anchor="end">0</text>
<line x1="618.2" y1="290.9" x2="623.4" y2="290.9" stroke="#000" stroke-width="1.3"/>
<text x="607.8" y="297.0" transform="translate(0,-13.36) scale(1,1.045)" class="yl" text-anchor="end">-50</text>
<line x1="618.2" y1="328.9" x2="623.4" y2="328.9" stroke="#000" stroke-width="1.3"/>
<text x="607.8" y="335.0" transform="translate(0,-15.08) scale(1,1.045)" class="yl" text-anchor="end">-100</text>
<line x1="618.2" y1="366.9" x2="623.4" y2="366.9" stroke="#000" stroke-width="1.3"/>
<text x="607.8" y="373.0" transform="translate(0,-16.79) scale(1,1.045)" class="yl" text-anchor="end">-150</text>
<line x1="618.2" y1="405.0" x2="623.4" y2="405.0" stroke="#000" stroke-width="1.3"/>
<text x="607.8" y="411.1" transform="translate(0,-18.50) scale(1,1.045)" class="yl" text-anchor="end">-200</text>
<line x1="623.4" y1="252.9" x2="1048.3" y2="252.9" stroke="#000" stroke-width="1.3"/>
<text x="623.5" y="432.8" transform="translate(0,-30.30) scale(1,1.07)" class="xr" text-anchor="middle">2022-01</text>
<line x1="735.3" y1="252.9" x2="735.3" y2="258.4" stroke="#000" stroke-width="1.3"/>
<text x="735.3" y="432.8" transform="translate(0,-30.30) scale(1,1.07)" class="xr" text-anchor="middle">2023-01</text>
<line x1="847.2" y1="252.9" x2="847.2" y2="258.4" stroke="#000" stroke-width="1.3"/>
<text x="847.2" y="432.8" transform="translate(0,-30.30) scale(1,1.07)" class="xr" text-anchor="middle">2024-01</text>
<line x1="959.0" y1="252.9" x2="959.0" y2="258.4" stroke="#000" stroke-width="1.3"/>
<text x="959.0" y="432.8" transform="translate(0,-30.30) scale(1,1.07)" class="xr" text-anchor="middle">2025-01</text>
<polyline points="623.7,207.0 624.8,190.0 626.0,186.0 628.2,195.0 631.2,205.0 633.3,208.2 636.3,203.0 638.4,204.7 640.4,201.0 642.5,210.2 644.5,206.1 646.5,197.0 648.6,175.5 650.6,173.5 653.7,168.0 655.7,170.4 657.8,179.6 659.8,174.5 661.9,169.4 663.9,174.5 667.0,178.6 671.0,182.7 673.1,197.0 675.1,208.2 677.6,212.3 680.2,210.2 682.3,207.2 685.3,206.8 687.4,217.4 690.0,233.7 692.5,229.6 694.5,223.5 696.6,220.4 698.6,205.1 700.6,191.9 703.7,190.4 706.8,190.4 709.8,193.9 711.9,183.7 713.5,174.5 714.9,180.6 716.0,193.9 718.0,195.9 720.0,202.0 723.1,202.7 726.2,204.1 728.2,211.3 730.2,220.4 733.3,223.5 735.4,217.4 737.4,225.5 739.4,233.7 742.5,237.4 744.5,235.7 746.6,231.7 749.6,227.6 751.7,213.3 753.7,195.9 756.4,197.0 758.8,205.1 761.3,211.3 763.9,210.2 767.0,210.2 769.0,202.0 771.1,201.0 773.1,206.1 776.2,203.0 778.2,190.8 780.3,176.5 782.3,173.5 785.4,172.5 788.4,167.4 790.5,163.3 793.5,163.9 795.6,186.7 797.6,193.9 800.7,191.9 802.7,189.8 804.8,190.8 806.8,179.6 809.9,178.6 813.0,176.5 816.0,170.4 818.0,166.3 821.1,176.5 824.2,174.5 826.2,176.5 829.3,172.5 831.3,154.1 833.1,171.5 836.1,170.4 838.2,172.5 840.2,187.8 842.2,203.0 844.3,210.4 850.4,210.4 852.5,202.2 855.5,190.0 857.6,187.8 859.6,167.4 863.7,153.1 865.7,159.2 867.8,174.5 869.8,165.3 872.9,151.0 875.9,131.6 878.0,127.6 880.6,116.3 882.7,122.5 884.7,144.9 887.6,157.2 889.6,147.0 891.3,134.7 893.3,152.1 895.3,149.0 897.8,140.8 900.4,120.4 902.5,113.8 904.5,115.8 906.6,130.6 908.6,159.2 910.6,198.0 911.7,220.6 913.7,251.3 914.7,269.6 917.8,271.3 919.8,273.7 921.5,282.0 923.9,295.3 926.0,296.3 928.0,302.5 930.0,294.3 932.1,282.0 935.1,277.8 937.2,257.4 940.2,226.7 942.7,203.3 945.4,218.6 947.4,234.9 949.4,251.3 951.5,271.7 953.5,259.4 956.6,251.3 959.6,239.0 962.3,230.8 964.3,239.0 966.8,253.3 969.2,267.6 970.9,294.3 972.9,298.4 975.0,320.8 976.4,344.3 977.4,354.3 980.0,354.3 981.4,347.1 983.6,348.6 985.7,345.0 987.9,358.6 989.3,372.9 990.7,384.3 992.9,388.6 994.3,389.3 996.4,387.1 998.6,383.6 1001.4,379.3 1003.6,375.7 1005.0,370.0 1007.1,362.9 1009.3,352.9 1011.4,352.1 1013.6,348.6 1015.7,341.4 1017.9,333.6 1020.0,332.9 1021.9,323.9 1022.9,318.6 1025.3,312.0 1027.8,309.6 1029.5,313.0 1031.0,315.3 1032.7,308.8 1034.3,314.0 1035.1,321.8 1036.7,307.1 1037.6,299.0 1039.2,312.0 1041.6,299.0 1044.1,287.6 1046.2,281.5 1047.3,292.4 1048.7,307.1" fill="none" stroke="#5e7e9c" stroke-width="3.3" stroke-linejoin="round" stroke-linecap="round"/>
<line x1="912.3" y1="115.3" x2="1012.8" y2="242.6" stroke="#d8c496" stroke-width="2"/>
<polygon points="1018.8,251.8 1008.2,245.4 1016.8,238.9" fill="#d6bf78"/>
<ellipse cx="1039" cy="289.6" rx="27.2" ry="30.6" fill="none" stroke="#9a5a5c" stroke-width="2.4" stroke-dasharray="7.5 5"/>
<line x1="9.2" y1="457.2" x2="519.6" y2="457.2" stroke="#000" stroke-width="1.6"/>
<line x1="548" y1="457.2" x2="1072.4" y2="457.2" stroke="#000" stroke-width="1.6"/>
<text class="src" y="480.6" transform="translate(0,-19.22) scale(1,1.04)"><tspan class="sc" x="21">数据来源：</tspan><tspan x="110">Bloomberg</tspan><tspan class="sc" x="198">，广发证券发展研究中心</tspan></text>
<text class="src" y="480.6" transform="translate(0,-19.22) scale(1,1.04)"><tspan class="sc" x="559.3">数据来源：</tspan><tspan x="648.5">Wind</tspan><tspan class="sc" x="690.3">，广发证券发展研究中心</tspan></text>
</svg>
</body></html>
